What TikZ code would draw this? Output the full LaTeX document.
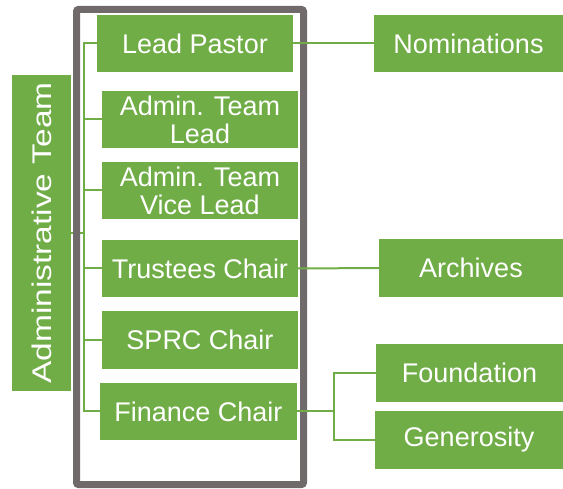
\documentclass[tikz,border=0pt]{standalone}
\usepackage{fontspec}
\usepackage{graphicx}
\setmainfont{Liberation Sans}
\usepackage{xcolor}
\usepackage{tikz}

\definecolor{boxgreen}{RGB}{112,173,71}
\definecolor{framegray}{RGB}{112,107,106}

\tikzset{
  box/.style={fill=boxgreen,text=white,inner sep=0pt,align=center,
    font=\fontsize{27}{28}\selectfont},
  link/.style={draw=boxgreen,line width=2pt},
  frame/.style={draw=framegray,line width=7pt,rounded corners=2pt}
}

\begin{document}
\begin{tikzpicture}[x=1pt,y=-1pt]

\useasboundingbox (0,0) rectangle (563,489);

\node[box][minimum width=59,minimum height=316] (admin) at (41.5,233) {\rotatebox{90}{\scalebox{1.24}[1]{Administrative Team}}};

\draw[link] (admin.east) -- (84.5,233);

\node[frame][minimum width=227,minimum height=475] (frame) at (190,247) {};

\node[box][minimum width=196,minimum height=57] (lead) at (195,43.5) {Lead Pastor};
\node[box][minimum width=196,minimum height=57] (atl) at (200,119.5) {Admin. Team\\Lead};
\node[box][minimum width=196,minimum height=57] (atvl) at (200,190.5) {Admin. Team\\Vice Lead};
\node[box][minimum width=196,minimum height=57] (trustees) at (200,268.5) {Trustees Chair};
\node[box][minimum width=196,minimum height=58] (sprc) at (200,340) {SPRC Chair};
\node[box][minimum width=197,minimum height=57] (finance) at (198.5,411.5) {Finance Chair};
%%%
\node[box][minimum width=189,minimum height=57] (nom) at (468.5,43.5) {Nominations};
\node[box][minimum width=184,minimum height=58] (arch) at (471,268) {Archives};
\node[box][minimum width=187,minimum height=58] (found) at (469.5,373) {Foundation};
\node[box][minimum width=188,minimum height=58] (gen) at (469,440) {Generosity};

\draw[link] (lead.west) -- ++(-12.5,0) coordinate (spine) |- (finance.west);
\draw[link] (atl.west) -- (atl.west -| spine);
\draw[link] (atvl.west) -- (atvl.west -| spine);
\draw[link] (trustees.west) -- (trustees.west -| spine);
\draw[link] (sprc.west) -- (sprc.west -| spine);
%%%
\draw[link] (lead.east) -- (nom.west);
\draw[link] (trustees.east) -- (arch.west);
\draw[link] (finance.east) -- ++(37,0) coordinate (fork) |- (found.west);
\draw[link] (fork) |- (gen.west);
\end{tikzpicture}
\end{document}
